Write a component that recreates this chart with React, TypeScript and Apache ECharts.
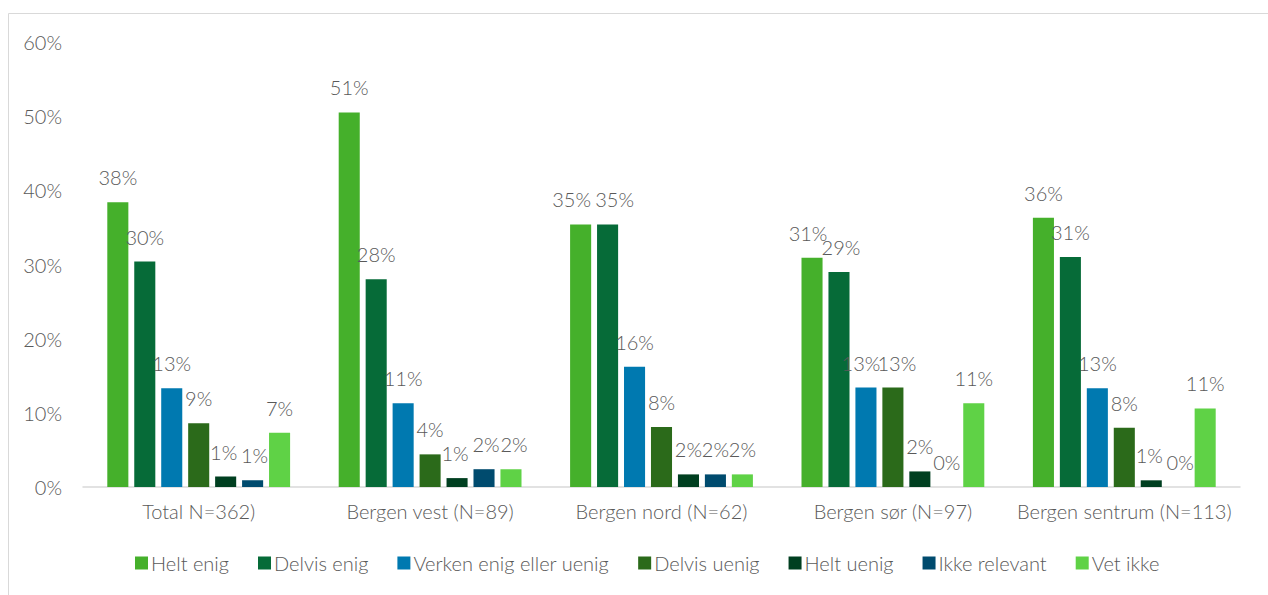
import React, { useEffect, useRef } from "react";
import * as echarts from "echarts";

const categories = [
  "Total N=362)",
  "Bergen vest (N=89)",
  "Bergen nord (N=62)",
  "Bergen sør (N=97)",
  "Bergen sentrum (N=113)",
];

const seriesNames = [
  "Helt enig",
  "Delvis enig",
  "Verken enig eller uenig",
  "Delvis uenig",
  "Helt uenig",
  "Ikke relevant",
  "Vet ikke",
];

const heltEnig = [38.4, 50.5, 35.4, 30.9, 36.3];
const delvisEnig = [30.4, 28.0, 35.4, 29.0, 31.0];
const verken = [13.3, 11.3, 16.2, 13.4, 13.3];
const delvisUenig = [8.6, 4.4, 8.1, 13.4, 8.0];
const heltUenig = [1.4, 1.2, 1.7, 2.1, 0.9];
const ikkeRelevant = [0.9, 2.4, 1.7, 0, 0];
const vetIkke = [7.3, 2.4, 1.7, 11.3, 10.6];

const yTicks = [0, 10, 20, 30, 40, 50, 60];

const colors = ["#45B02B", "#066B38", "#0079B0", "#2B6A1A", "#003F20", "#004B6E", "#5FD246"];

// label nudges [series-category] in px (x offset) to keep adjacent labels apart, like the original
const labelNudge: Record<string, number> = {
  "0-2": -9,
  "1-2": 7,
  "0-3": -4,
  "1-3": 2,
  "2-3": -5,
  "3-3": 4,
  "4-0": -2,
  "5-0": 2,
  "4-1": -2,
  "5-1": 2,
  "6-1": 3,
  "4-4": -2,
  "5-4": 2,
};

const FONT = "Lato";
const FW = 300;
const FS = 20;
const TEXT = "#595959";

export default function App() {
  const ref = useRef<HTMLDivElement>(null);
  useEffect(() => {
    if (!ref.current) return;
    const chart = echarts.init(ref.current, undefined, { renderer: "svg" });
    const allData = [heltEnig, delvisEnig, verken, delvisUenig, heltUenig, ikkeRelevant, vetIkke];
    chart.setOption({
      animation: false,
      textStyle: { fontFamily: FONT, fontWeight: FW },
      graphic: [
        {
          type: "rect",
          shape: { x: 8.5, y: 13.5, width: 1400, height: 800 },
          style: { fill: "none", stroke: "#D9D9D9", lineWidth: 1 },
          silent: true,
        },
      ],
      legend: {
        top: 548,
        left: 130,
        itemWidth: 13,
        itemHeight: 13,
        itemGap: 29,
        icon: "rect",
        textStyle: { color: TEXT, fontSize: FS, fontFamily: FONT, fontWeight: FW, padding: [0, 0, 0, -2] },
        data: seriesNames,
      },
      grid: { left: 83, right: 28, top: 42, bottom: 108, containLabel: false },
      xAxis: {
        type: "category",
        data: categories,
        axisLine: { lineStyle: { color: "#D9D9D9", width: 1.5 } },
        axisTick: { show: false },
        axisLabel: { color: TEXT, fontSize: FS, fontFamily: FONT, fontWeight: FW, margin: 14, interval: 0 },
      },
      yAxis: {
        type: "value",
        min: yTicks[0],
        max: yTicks[yTicks.length - 1],
        interval: 10,
        splitLine: { show: false },
        axisLine: { show: false },
        axisTick: { show: false },
        axisLabel: { color: TEXT, fontSize: FS, fontFamily: FONT, fontWeight: FW, margin: 21, formatter: "{value}%" },
      },
      series: seriesNames.map((name, i) => ({
        name,
        type: "bar",
        data: allData[i].map((v, j) => {
          const dx = labelNudge[i + "-" + j];
          return dx ? { value: v, label: { offset: [dx, 0] } } : v;
        }),
        barGap: "28%",
        barCategoryGap: "21%",
        itemStyle: { color: colors[i] },
        label: {
          show: true,
          position: "top",
          distance: 15,
          color: TEXT,
          fontSize: FS,
          fontFamily: FONT,
          fontWeight: FW,
          formatter: (p: any) => Math.round(p.value) + "%",
        },
      })),
    });
    return () => chart.dispose();
  }, []);
  return (
    <div
      ref={ref}
      style={{ position: "absolute", left: 0, top: 0, width: 1268, height: 595, background: "#fff" }}
    />
  );
}
